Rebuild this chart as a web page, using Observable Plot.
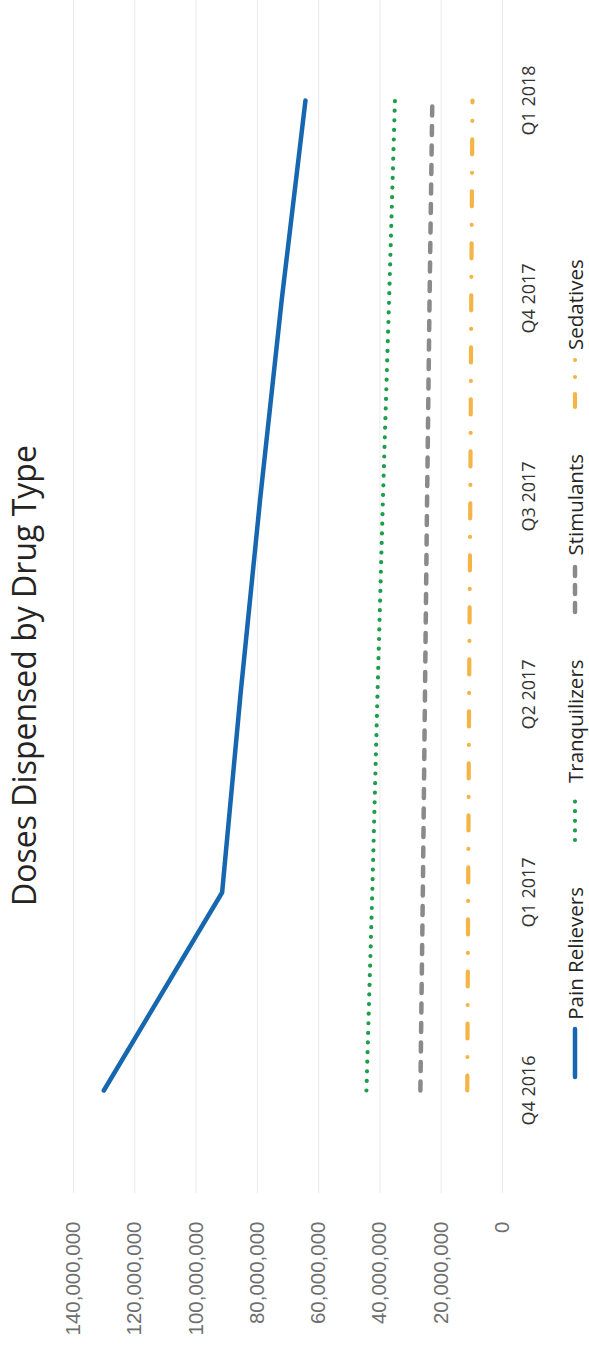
<!DOCTYPE html>
<html>
<head>
<meta charset="utf-8">
<script src="https://cdn.jsdelivr.net/npm/d3@7"></script>
<script src="https://cdn.jsdelivr.net/npm/@observablehq/plot@0.6"></script>
<style>
  html, body { margin: 0; padding: 0; background: #fff; overflow: hidden; }
  body { width: 589px; height: 1351px; position: relative; }
  #land {
    position: absolute; left: 0; top: 0;
    width: 1351px; height: 589px;
    transform-origin: 0 0;
    transform: translate(0px, 1351px) rotate(-90deg);
    background: #fff;
  }
  #title {
    position: absolute; left: 0; top: 8px; width: 1351px;
    text-align: center; font-family: "Open Sans", "Noto Sans", sans-serif;
    font-size: 32px; line-height: 32px; color: #252423; font-weight: 400;
  }
  #chart { position: absolute; left: 0; top: 0; }
  #legend {
    position: absolute; left: 6px; top: 565px; width: 1351px;
    display: flex; justify-content: center; align-items: center;
    font-family: "Open Sans", "Noto Sans", sans-serif; font-size: 20.5px; line-height: 20px; color: #252423;
  }
  .item { display: flex; align-items: center; margin: 0 22px; }
  .item svg { margin-right: 6px; }
  g[aria-label="y-axis tick label"] text { font-family: "Liberation Sans", Arial, sans-serif; font-size: 20.5px; fill: #6e6e6e; }
  g[aria-label="x-axis tick label"] text { font-family: "Open Sans", "Noto Sans", sans-serif; font-size: 18px; fill: #333; }
</style>
</head>
<body>
<div id="land">
  <div id="chart"></div>
  <div id="title">Doses Dispensed by Drug Type</div>
  <div id="legend"></div>
</div>
<script>
// Data
const quarters = ["Q4 2016", "Q1 2017", "Q2 2017", "Q3 2017", "Q4 2017", "Q1 2018"];
const painRelievers = [130100000, 91500000, 85500000, 79000000, 72000000, 64300000];
const tranquilizers = [44400000, 42500000, 40800000, 39000000, 37000000, 35100000];
const stimulants = [26800000, 26000000, 25300000, 24600000, 23800000, 22900000];
const sedatives = [11500000, 11200000, 10900000, 10500000, 10200000, 9800000];
const seriesNames = ["Pain Relievers", "Tranquilizers", "Stimulants", "Sedatives"];
const yTicks = [0, 20000000, 40000000, 60000000, 80000000, 100000000, 120000000, 140000000];

// Styles per series
const seriesStyle = {
  "Pain Relievers": {stroke: "#1667b0", strokeWidth: 4.5, dash: null, legendDash: null},
  "Tranquilizers": {stroke: "#1e9e4c", strokeWidth: 4.2, dash: "0.01,9.6", legendDash: "0.01,9.6"},
  "Stimulants": {stroke: "#8a8a8a", strokeWidth: 4.5, dash: "9,10.5", legendDash: "9,9"},
  "Sedatives": {stroke: "#f5b446", strokeWidth: 4.2, dash: "15,18.5,0.01,18.5", legendDash: "13,17,0.01,17,0.01,20"}
};

const valuesBySeries = [painRelievers, tranquilizers, stimulants, sedatives];
const rows = [];
seriesNames.forEach((s, i) => quarters.forEach((q, j) => rows.push({series: s, quarter: q, value: valuesBySeries[i][j]})));

const lineMarks = seriesNames.map(s => {
  const st = seriesStyle[s];
  return Plot.lineY(rows.filter(d => d.series === s), {
    x: "quarter", y: "value",
    stroke: st.stroke, strokeWidth: st.strokeWidth,
    strokeDasharray: st.dash, strokeLinecap: "round", strokeLinejoin: "round"
  });
});

const chart = Plot.plot({
  width: 1351, height: 589,
  marginLeft: 158, marginRight: 0, marginTop: 73, marginBottom: 87,
  style: {background: "transparent", overflow: "visible"},
  x: {type: "point", domain: quarters, padding: 0.5, label: null},
  y: {domain: [0, 140000000], label: null},
  marks: [
    Plot.gridY(yTicks, {stroke: "#ebebeb", strokeOpacity: 1, strokeWidth: 1}),
    Plot.axisY(yTicks, {tickSize: 0, tickPadding: 29, tickFormat: d3.format(","), label: null}),
    Plot.axisX({tickSize: 0, tickPadding: 20, label: null}),
    ...lineMarks
  ]
});
document.getElementById("chart").appendChild(chart);

// Legend
const legend = document.getElementById("legend");
const ns = "http://www.w3.org/2000/svg";
seriesNames.forEach(s => {
  const st = seriesStyle[s];
  const item = document.createElement("div");
  item.className = "item";
  const sv = document.createElementNS(ns, "svg");
  sv.setAttribute("width", "54"); sv.setAttribute("height", "10");
  const ln = document.createElementNS(ns, "line");
  ln.setAttribute("x1", "3"); ln.setAttribute("x2", "51");
  ln.setAttribute("y1", "5"); ln.setAttribute("y2", "5");
  ln.setAttribute("stroke", st.stroke);
  ln.setAttribute("stroke-width", st.strokeWidth);
  ln.setAttribute("stroke-linecap", "round");
  if (st.legendDash) ln.setAttribute("stroke-dasharray", st.legendDash);
  sv.appendChild(ln);
  const tx = document.createElement("span");
  tx.textContent = s;
  item.appendChild(sv); item.appendChild(tx);
  legend.appendChild(item);
});
</script>
</body>
</html>
